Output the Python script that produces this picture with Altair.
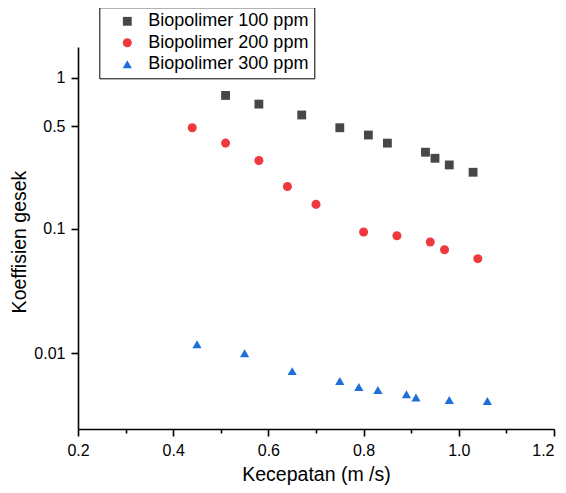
import altair as alt
import pandas as pd

# ---- data ----
series = ["Biopolimer 100 ppm", "Biopolimer 200 ppm", "Biopolimer 300 ppm"]

x100 = [0.51, 0.58, 0.67, 0.75, 0.81, 0.85, 0.93, 0.95, 0.98, 1.03]
y100 = [0.78, 0.69, 0.59, 0.49, 0.44, 0.39, 0.34, 0.31, 0.28, 0.25]

x200 = [0.44, 0.51, 0.58, 0.64, 0.70, 0.80, 0.87, 0.94, 0.97, 1.04]
y200 = [0.49, 0.39, 0.30, 0.20, 0.15, 0.095, 0.089, 0.080, 0.070, 0.060]

x300 = [0.45, 0.55, 0.65, 0.75, 0.79, 0.83, 0.89, 0.91, 0.98, 1.06]
y300 = [0.012, 0.010, 0.0069, 0.0056, 0.0049, 0.0046, 0.0042, 0.0039, 0.0037, 0.0036]

x_ticks = [0.2, 0.4, 0.6, 0.8, 1.0, 1.2]
x_minor = [0.3, 0.5, 0.7, 0.9, 1.1]
y_ticks = [0.01, 0.1, 0.5, 1]

colors = ["#474747", "#ee3a3e", "#1f6fdb"]
shapes = ["square", "circle", "triangle-up"]
sizes = [78, 85, 130]

rows = []
for name, xs, ys in zip(series, [x100, x200, x300], [y100, y200, y300]):
    for a, b in zip(xs, ys):
        rows.append({"series": name, "v": a, "k": b})
df = pd.DataFrame(rows)

FONT = "Liberation Sans"

xscale = alt.Scale(domain=[0.2, 1.2], nice=False, zero=False)
yscale = alt.Scale(type="pow", exponent=0.085, domain=[0.0019, 1.517], nice=False, zero=False)

legend = alt.Legend(
    title=None, orient="none", legendX=21.3, legendY=-39.7,
    labelFont=FONT, labelFontSize=18, labelColor="black", labelLimit=400,
    symbolSize=45, symbolStrokeWidth=0, symbolOpacity=1,
    strokeColor="black", fillColor="white", padding=5, rowPadding=3.5,
    labelOffset=12, symbolOffset=14,
)

points = alt.Chart(df).mark_point(filled=True, opacity=1, strokeWidth=0).encode(
    x=alt.X("v:Q", scale=xscale,
            axis=alt.Axis(orient="bottom", values=x_ticks, format=".1f",
                          title="Kecepatan (m /s)", tickSize=7, labelPadding=6,
                          labelAlign={"condition": {"test": "datum.value >= 1.19", "value": "right"},
                                      "value": "center"},
                          titleX=238, titleY=45, titleAlign="center",
                          titleBaseline="middle")),
    y=alt.Y("k:Q", scale=yscale,
            axis=alt.Axis(values=y_ticks, format="~g", title="Koeffisien gesek",
                          tickSize=7, labelPadding=6, titleX=-58.5, titleY=194.5,
                          titleAngle=270, titleAlign="center", titleBaseline="middle")),
    color=alt.Color("series:N", scale=alt.Scale(domain=series, range=colors), legend=legend),
    shape=alt.Shape("series:N", scale=alt.Scale(domain=series, range=shapes), legend=legend),
    size=alt.Size("series:O", scale=alt.Scale(domain=series, range=sizes), legend=None),
)

minor = alt.Chart(df).mark_point(opacity=0).encode(
    x=alt.X("v:Q", scale=xscale,
            axis=alt.Axis(orient="bottom", values=x_minor, labels=False, tickSize=4,
                          domain=False, title=None, grid=False)),
)

chart = alt.layer(points, minor).resolve_axis(x="independent").properties(
    width=476, height=382,
    padding={"left": 70, "top": 39, "right": 4, "bottom": 56},
    autosize=alt.AutoSizeParams(type="none"),
    background="white",
).configure_view(stroke=None).configure_axis(
    grid=False, domainColor="black", tickColor="black", labelColor="black",
    titleColor="black", labelFont=FONT, titleFont=FONT, titleFontWeight="normal",
    labelFontSize=16, titleFontSize=19.5, domainWidth=1.6, tickWidth=1.6,
)

chart.save("out.html", embed_options={"renderer": "svg", "actions": False})
